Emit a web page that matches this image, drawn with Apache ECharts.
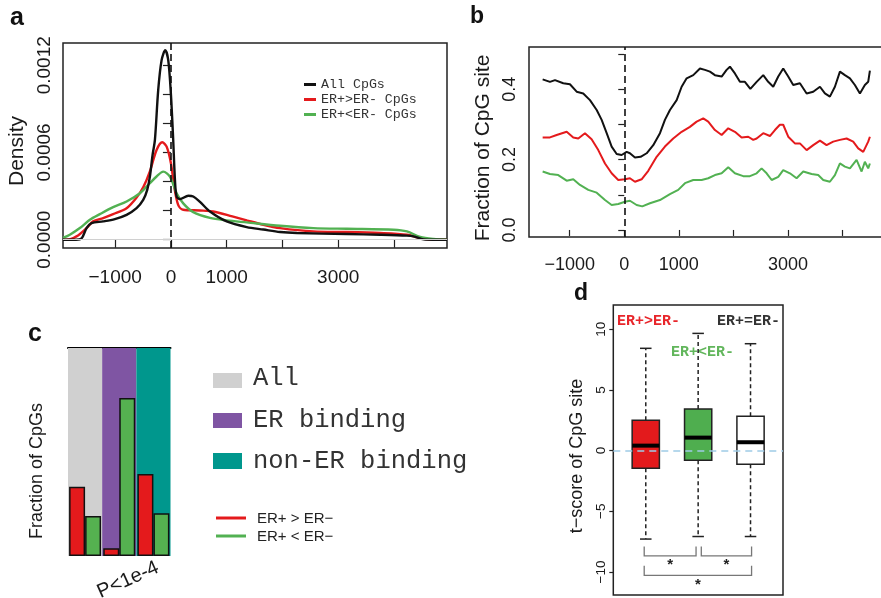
<!DOCTYPE html>
<html>
<head>
<meta charset="utf-8">
<script src="https://cdn.jsdelivr.net/npm/echarts@6/dist/echarts.min.js"></script>
<style>
html, body { margin: 0; padding: 0; background: #fff; }
#chart { width: 881px; height: 598px; }
</style>
</head>
<body>
<div id="chart"></div>
<script>
// ---- a: density of CpG position relative to the binding site ----
const densityAll = [[-1935,0],[-1700,0],[-1600,0.00001],[-1513,0.00008],[-1423,0.000114],[-1215,0.000126],[-1005,0.000142],[-795,0.000171],[-616,0.000217],[-497,0.000274],[-425,0.000343],[-377,0.000434],[-330,0.00058],[-287,0.000686],[-228,0.001029],[-167,0.001235],[-102,0.001303],[-48,0.001235],[0,0.001],[41,0.000686],[72,0.000412],[102,0.000297],[162,0.000279],[311,0.000302],[400,0.000297],[521,0.00026],[700,0.000194],[1000,0.000126],[1359,0.000087],[1657,0.00007],[1957,0.000053],[2257,0.000046],[3154,0.000039],[3752,0.000034],[4232,0.000028],[4350,0.000023],[4530,0.000002],[4700,0],[4950,0]];
const densityUp = [[-1935,0],[-1872,0],[-1693,0.000023],[-1513,0.00008],[-1395,0.000126],[-1215,0.000149],[-1036,0.000176],[-795,0.000217],[-616,0.00029],[-497,0.00036],[-377,0.00047],[-257,0.000617],[-156,0.00067],[-77,0.00064],[0,0.000526],[59,0.000366],[130,0.00024],[220,0.000206],[521,0.000201],[759,0.000194],[1100,0.00016],[1359,0.000133],[1657,0.000103],[1957,0.00008],[2555,0.000057],[3154,0.000053],[3752,0.000046],[4232,0.000034],[4470,0.000011],[4709,0],[4950,0]];
const densityDown = [[-1935,0.000012],[-1813,0.000034],[-1633,0.00008],[-1454,0.000137],[-1274,0.000176],[-1036,0.000224],[-795,0.000263],[-556,0.00032],[-377,0.000389],[-257,0.000435],[-138,0.000468],[-18,0.000434],[102,0.00032],[221,0.00025],[400,0.00019],[700,0.00015],[1000,0.000133],[1359,0.000119],[1957,0.000096],[2555,0.00008],[3154,0.000075],[3991,0.000069],[4232,0.000057],[4470,0.000019],[4709,0.000005],[4950,0]];
const distTicks = [-1000, 0, 1000, 2000, 3000, 4000];
const distLabels = [-1000, 0, 1000, 3000];
const densityTicks = [0, 0.0002, 0.0004, 0.0006, 0.0008, 0.001, 0.0012];
const densityLabels = [0, 0.0006, 0.0012];

// ---- b: running fraction of CpG sites along the same window ----
const fracAll = [[-1495,0.428],[-1361,0.421],[-1269,0.426],[-1117,0.417],[-995,0.414],[-872,0.393],[-751,0.388],[-628,0.369],[-505,0.341],[-414,0.313],[-322,0.275],[-231,0.237],[-139,0.216],[-48,0.213],[44,0.222],[104,0.218],[196,0.206],[300,0.208],[410,0.218],[531,0.241],[654,0.275],[745,0.313],[837,0.341],[960,0.369],[1051,0.407],[1143,0.431],[1264,0.44],[1387,0.459],[1478,0.455],[1570,0.45],[1661,0.44],[1784,0.436],[1875,0.455],[1936,0.464],[2027,0.445],[2119,0.421],[2210,0.421],[2310,0.401],[2425,0.421],[2546,0.44],[2637,0.421],[2729,0.407],[2821,0.436],[2912,0.459],[3004,0.436],[3095,0.412],[3218,0.417],[3341,0.388],[3462,0.393],[3585,0.407],[3676,0.388],[3767,0.379],[3859,0.407],[3951,0.45],[4042,0.44],[4134,0.431],[4225,0.412],[4317,0.388],[4408,0.412],[4469,0.421],[4500,0.453]];
const fracUp = [[-1495,0.263],[-1361,0.263],[-1238,0.27],[-1055,0.279],[-934,0.263],[-842,0.26],[-720,0.275],[-598,0.258],[-476,0.227],[-353,0.189],[-231,0.161],[-110,0.142],[13,0.144],[104,0.147],[196,0.137],[318,0.144],[440,0.168],[593,0.208],[745,0.237],[897,0.26],[1051,0.279],[1203,0.293],[1326,0.308],[1447,0.317],[1538,0.308],[1661,0.284],[1784,0.27],[1905,0.289],[2027,0.279],[2150,0.263],[2271,0.265],[2363,0.256],[2425,0.26],[2546,0.275],[2668,0.267],[2760,0.284],[2851,0.299],[2912,0.299],[3004,0.265],[3126,0.246],[3218,0.246],[3341,0.227],[3462,0.241],[3585,0.254],[3706,0.241],[3828,0.251],[3951,0.256],[4073,0.26],[4194,0.251],[4286,0.232],[4378,0.222],[4469,0.251],[4500,0.265]];
const fracDown = [[-1495,0.166],[-1361,0.159],[-1209,0.156],[-1055,0.14],[-934,0.144],[-811,0.128],[-659,0.114],[-505,0.106],[-353,0.085],[-231,0.071],[-110,0.074],[13,0.08],[104,0.083],[227,0.071],[330,0.067],[471,0.076],[654,0.085],[837,0.102],[989,0.114],[1112,0.133],[1264,0.142],[1418,0.142],[1538,0.147],[1661,0.156],[1784,0.161],[1905,0.178],[2027,0.161],[2180,0.153],[2302,0.153],[2425,0.161],[2516,0.175],[2608,0.161],[2700,0.142],[2821,0.151],[2912,0.17],[3035,0.161],[3157,0.147],[3279,0.166],[3432,0.159],[3553,0.156],[3645,0.142],[3767,0.137],[3859,0.156],[3951,0.189],[4042,0.18],[4134,0.175],[4256,0.199],[4348,0.166],[4408,0.194],[4469,0.175],[4500,0.189]];
const fracTicks = [0, 0.1, 0.2, 0.3, 0.4, 0.5];
const fracLabels = [0, 0.2, 0.4];

// ---- c: fraction of differential CpGs per region class ----
const regionClasses = ['All', 'ER binding', 'non-ER binding'];
const regionShare = [1, 1, 1];
const cpgUpShare = [0.333, 0.037, 0.394];
const cpgDownShare = [0.192, 0.76, 0.205];

// ---- d: t-score distribution per CpG group ----
const scoreGroups = ['ER+>ER-', 'ER+<ER-', 'ER+=ER-'];
// [position, lower whisker, Q1, median, Q3, upper whisker]
const scoreStats = [
  [1, -7.29, -1.45, 0.41, 2.50, 8.43],
  [2, -7.08, -0.79, 1.07, 3.43, 9.66],
  [3, -7.08, -1.12, 0.69, 2.83, 8.81]
];
const scoreTicks = [-10, -5, 0, 5, 10];
const comparisons = [[1, 2, 0], [2, 3, 0], [1, 3, 1]]; // pair of groups, bracket row

const C = {
  ink: '#1a1a1a',
  red: '#e41a1c',
  green: '#52b152',
  regionFill: ['#d0d0d0', '#7f55a3', '#00978d'],
  boxFill: ['#e31a1c', '#4fae4f', '#ffffff'],
  zero: '#9fcbe6'
};
const SANS = 'Liberation Sans, Arial, sans-serif';
const MONO = 'Liberation Mono, Courier New, monospace';

const minusFmt = v => (v < 0 ? '\u2212' : '') + Math.abs(v);

function rAxisX(gridIndex, min, max, fontSize, margin, tickLen) {
  return {
    type: 'value', gridIndex, min, max,
    axisLine: { show: false },
    splitLine: { show: false },
    axisTick: { show: true, customValues: distTicks, length: tickLen, lineStyle: { color: '#222', width: 1.2 } },
    axisLabel: { customValues: distLabels, formatter: minusFmt, fontFamily: SANS, fontSize, color: C.ink, margin }
  };
}

function renderBox(params, api) {
  const x = api.value(0);
  const lo = api.coord([x, api.value(1)]);
  const q1 = api.coord([x, api.value(2)]);
  const md = api.coord([x, api.value(3)]);
  const q3 = api.coord([x, api.value(4)]);
  const hi = api.coord([x, api.value(5)]);
  const w = api.size([0.52, 0])[0];
  const cap = api.size([0.22, 0])[0];
  const cx = md[0];
  const dash = { stroke: '#222', lineWidth: 1.5, lineDash: [4, 3] };
  const solid = { stroke: '#222', lineWidth: 1.5 };
  return {
    type: 'group',
    children: [
      { type: 'line', shape: { x1: cx, y1: q3[1], x2: cx, y2: hi[1] }, style: dash },
      { type: 'line', shape: { x1: cx, y1: q1[1], x2: cx, y2: lo[1] }, style: dash },
      { type: 'line', shape: { x1: cx - cap / 2, y1: hi[1], x2: cx + cap / 2, y2: hi[1] }, style: solid },
      { type: 'line', shape: { x1: cx - cap / 2, y1: lo[1], x2: cx + cap / 2, y2: lo[1] }, style: solid },
      { type: 'rect', shape: { x: cx - w / 2, y: q3[1], width: w, height: q1[1] - q3[1] },
        style: { fill: C.boxFill[params.dataIndex], stroke: '#222', lineWidth: 1.5 } },
      { type: 'line', shape: { x1: cx - w / 2, y1: md[1], x2: cx + w / 2, y2: md[1] }, style: { stroke: '#000', lineWidth: 4 } }
    ]
  };
}

// significance brackets under the boxes
const bracketRows = [[-7.9, -8.67], [-9.49, -10.29]];
const bracketData = comparisons.map(([a, b, row]) => [a + (a === 1 ? -0.03 : 0.06), b + (b === 2 ? -0.04 : 0.02), bracketRows[row][0], bracketRows[row][1]]);
function renderBracket(params, api) {
  const p1 = api.coord([api.value(0), api.value(2)]);
  const p2 = api.coord([api.value(0), api.value(3)]);
  const p3 = api.coord([api.value(1), api.value(3)]);
  const p4 = api.coord([api.value(1), api.value(2)]);
  return {
    type: 'group',
    children: [
      { type: 'polyline', shape: { points: [p1, p2, p3, p4] }, style: { stroke: '#777', lineWidth: 1.3, fill: null } },
      { type: 'text', x: (p2[0] + p3[0]) / 2, y: p2[1] + 2,
        style: { text: '*', fontFamily: SANS, fontSize: 15, fontWeight: 'bold', fill: '#222', align: 'center', verticalAlign: 'top' } }
    ]
  };
}

const lineSeries = (name, data, color, xi, yi, width, smooth) => ({
  name, type: 'line', data, xAxisIndex: xi, yAxisIndex: yi,
  showSymbol: false, smooth, silent: true, animation: false,
  lineStyle: { color, width }, itemStyle: { color }
});

const vDash = {
  silent: true, symbol: 'none', label: { show: false },
  lineStyle: { color: '#111', type: [7, 4], width: 1.6 },
  data: [{ xAxis: 0 }]
};

const chart = echarts.init(document.getElementById('chart'), null, { renderer: 'canvas' });
chart.setOption({
  animation: false,
  backgroundColor: '#fff',
  legend: {
    data: ['All CpGs', 'ER+>ER- CpGs', 'ER+<ER- CpGs'],
    orient: 'vertical', left: 299, top: 73, itemGap: 2,
    icon: 'rect', itemWidth: 12, itemHeight: 3, selectedMode: false,
    textStyle: { fontFamily: MONO, fontSize: 13.3, color: '#333' }
  },
  grid: [
    { left: 63, top: 43, width: 384, height: 205, show: true, borderColor: '#222', borderWidth: 1.5, backgroundColor: 'transparent', outerBoundsMode: 'none' },
    { left: 529, top: 47, width: 354, height: 190, show: true, borderColor: '#222', borderWidth: 1.5, backgroundColor: 'transparent', outerBoundsMode: 'none' },
    { left: 68, top: 348, width: 102.5, height: 208, outerBoundsMode: 'none' },
    { left: 613.3, top: 305, width: 169.7, height: 290, show: true, borderColor: '#222', borderWidth: 1.5, backgroundColor: 'transparent', outerBoundsMode: 'none' }
  ],
  xAxis: [
    rAxisX(0, -1935, 4950, 19, 20, 8),
    rAxisX(1, -1745, 4740, 18, 19, 6),
    { type: 'category', gridIndex: 2, data: regionClasses, show: false },
    { type: 'category', gridIndex: 2, data: regionClasses, axisLine: { show: true, lineStyle: { color: '#000', width: 2 } }, axisTick: { show: false }, axisLabel: { show: false } },
    { type: 'value', gridIndex: 3, min: 0.38, max: 3.62, show: false }
  ],
  yAxis: [
    {
      type: 'value', gridIndex: 0, min: -0.000057, max: 0.001353,
      name: 'Density', nameLocation: 'middle', nameGap: 35,
      nameTextStyle: { fontFamily: SANS, fontSize: 21, color: C.ink, padding: [0, 11, 0, 0] },
      axisLine: { show: false }, splitLine: { show: false },
      axisTick: { customValues: densityTicks, length: 8, lineStyle: { color: '#222', width: 1.2 } },
      axisLabel: { customValues: densityLabels, formatter: v => v.toFixed(4), rotate: 90, fontFamily: SANS, fontSize: 19, color: C.ink, margin: 9 }
    },
    {
      type: 'value', gridIndex: 1, min: -0.02, max: 0.52,
      name: 'Fraction of CpG site', nameLocation: 'middle', nameGap: 35,
      nameTextStyle: { fontFamily: SANS, fontSize: 21, color: C.ink, padding: [0, 12, 0, 0] },
      axisLine: { show: false }, splitLine: { show: false },
      axisTick: { customValues: fracTicks, length: 6, lineStyle: { color: '#222', width: 1.2 } },
      axisLabel: { customValues: fracLabels, formatter: v => v.toFixed(1), rotate: 90, fontFamily: SANS, fontSize: 18, color: C.ink, margin: 10 }
    },
    { type: 'value', gridIndex: 2, min: 0, max: 1, show: false },
    {
      type: 'value', gridIndex: 3, min: -11.9, max: 12,
      name: 't\u2212score of CpG site', nameLocation: 'middle', nameGap: 27,
      nameTextStyle: { fontFamily: SANS, fontSize: 18, color: C.ink, padding: [0, 12, 0, 0] },
      axisLine: { show: false }, splitLine: { show: false },
      axisTick: { customValues: scoreTicks, length: 4, lineStyle: { color: '#222', width: 1.2 } },
      axisLabel: { customValues: scoreTicks, formatter: minusFmt, rotate: 90, fontFamily: SANS, fontSize: 13.5, color: C.ink, margin: 5 }
    }
  ],
  series: [
    // a
    Object.assign(lineSeries('All CpGs', densityAll, '#111', 0, 0, 2.4, 0.3), {
      z: 4,
      markLine: {
        silent: true, symbol: 'none', label: { show: false },
        data: [
          { yAxis: 0, lineStyle: { color: '#d0d0d0', type: 'solid', width: 1 } },
          { xAxis: 0, lineStyle: { color: '#111', type: [7, 4], width: 1.6 } }
        ]
      }
    }),
    lineSeries('ER+>ER- CpGs', densityUp, C.red, 0, 0, 2.4, 0.3),
    lineSeries('ER+<ER- CpGs', densityDown, C.green, 0, 0, 2.4, 0.3),
    // b
    Object.assign(lineSeries('All CpGs, running fraction', fracAll, '#111', 1, 1, 2, false), { markLine: vDash }),
    lineSeries('ER+>ER- CpGs, running fraction', fracUp, C.red, 1, 1, 2, false),
    lineSeries('ER+<ER- CpGs, running fraction', fracDown, C.green, 1, 1, 2, false),
    // c
    {
      name: 'Region class', type: 'bar', xAxisIndex: 2, yAxisIndex: 2, barWidth: '100%', silent: true, z: 1,
      data: regionShare.map((v, i) => ({ value: v, itemStyle: { color: C.regionFill[i] } }))
    },
    {
      name: 'ER+ > ER-', type: 'bar', xAxisIndex: 3, yAxisIndex: 2, barWidth: 16, barGap: '0%', silent: true, z: 3,
      data: cpgUpShare, itemStyle: { color: C.red, borderColor: '#111', borderWidth: 1.5 }
    },
    {
      name: 'ER+ < ER-', type: 'bar', xAxisIndex: 3, yAxisIndex: 2, barWidth: 16, barGap: '0%', silent: true, z: 3,
      data: cpgDownShare, itemStyle: { color: '#55b150', borderColor: '#111', borderWidth: 1.5 }
    },
    // d
    {
      name: 't-score', type: 'custom', xAxisIndex: 4, yAxisIndex: 3, silent: true, z: 3,
      renderItem: renderBox, data: scoreStats, encode: { x: 0, y: [1, 2, 3, 4, 5] },
      markLine: {
        silent: true, symbol: 'none', label: { show: false }, z: 5,
        lineStyle: { color: C.zero, type: [7, 5], width: 1.6 },
        data: [{ yAxis: 0 }]
      }
    },
    {
      name: 'comparison', type: 'custom', xAxisIndex: 4, yAxisIndex: 3, silent: true, z: 3,
      renderItem: renderBracket, data: bracketData, encode: { x: [0, 1], y: [2, 3] }
    }
  ],
  graphic: [
    // panel letters
    { type: 'text', left: 10, top: 6, style: { text: 'a', font: 'bold 25px ' + SANS, fill: '#111' } },
    { type: 'text', left: 470, top: 5, style: { text: 'b', font: 'bold 23px ' + SANS, fill: '#111' } },
    { type: 'text', left: 28, top: 322, style: { text: 'c', font: 'bold 25px ' + SANS, fill: '#111' } },
    { type: 'text', left: 574, top: 282, style: { text: 'd', font: 'bold 23px ' + SANS, fill: '#111' } },
    // c: axis label and category note
    { type: 'text', x: 37, y: 471, rotation: Math.PI / 2,
      style: { text: 'Fraction of CpGs', font: '18px ' + SANS, fill: C.ink, align: 'center', verticalAlign: 'middle' } },
    { type: 'text', x: 128, y: 580, rotation: 24 * Math.PI / 180,
      style: { text: 'P<1e-4', font: '20px ' + SANS, fill: C.ink, align: 'center', verticalAlign: 'middle' } },
    // c: legend of region classes
    { type: 'rect', shape: { x: 213, y: 373, width: 29, height: 15 }, style: { fill: C.regionFill[0] } },
    { type: 'rect', shape: { x: 213, y: 413, width: 29, height: 15 }, style: { fill: C.regionFill[1] } },
    { type: 'rect', shape: { x: 213, y: 453, width: 29, height: 16 }, style: { fill: C.regionFill[2] } },
    { type: 'text', x: 253, y: 378, style: { text: regionClasses[0], font: '25.5px ' + MONO, fill: '#333', verticalAlign: 'middle' } },
    { type: 'text', x: 253, y: 420, style: { text: regionClasses[1], font: '25.5px ' + MONO, fill: '#333', verticalAlign: 'middle' } },
    { type: 'text', x: 253, y: 461, style: { text: regionClasses[2], font: '25.5px ' + MONO, fill: '#333', verticalAlign: 'middle' } },
    // c: legend of CpG direction
    { type: 'line', shape: { x1: 216, y1: 518, x2: 246, y2: 518 }, style: { stroke: C.red, lineWidth: 3 } },
    { type: 'line', shape: { x1: 216, y1: 536, x2: 246, y2: 536 }, style: { stroke: C.green, lineWidth: 3 } },
    { type: 'text', x: 257, y: 519, style: { text: 'ER+ > ER\u2212', font: '15px ' + SANS, fill: '#222', verticalAlign: 'middle' } },
    { type: 'text', x: 257, y: 537, style: { text: 'ER+ < ER\u2212', font: '15px ' + SANS, fill: '#222', verticalAlign: 'middle' } },
    // d: group names
    { type: 'text', x: 617, y: 321, style: { text: scoreGroups[0], font: 'bold 15px ' + MONO, fill: '#e8262b', verticalAlign: 'middle' } },
    { type: 'text', x: 671, y: 352, style: { text: scoreGroups[1], font: 'bold 15px ' + MONO, fill: '#62b65c', verticalAlign: 'middle' } },
    { type: 'text', x: 717, y: 321, style: { text: scoreGroups[2], font: 'bold 15px ' + MONO, fill: '#333', verticalAlign: 'middle' } }
  ]
});
</script>
</body>
</html>
